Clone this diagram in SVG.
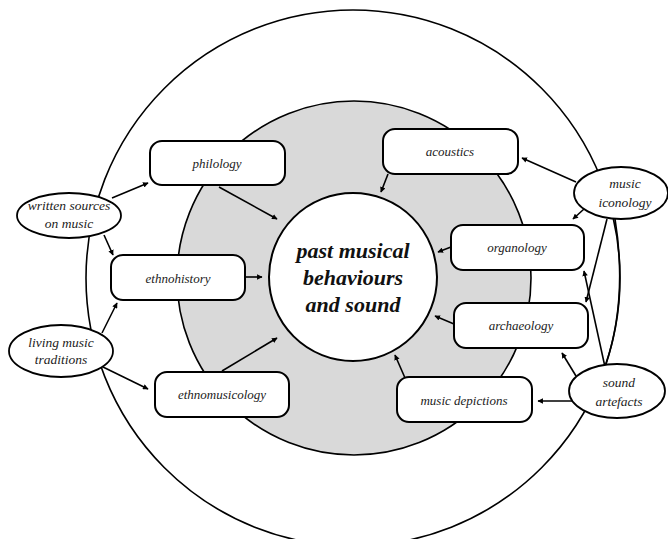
<svg xmlns="http://www.w3.org/2000/svg" width="668" height="539" viewBox="0 0 668 539">
<style>
.box{fill:#fff;stroke:#000;stroke-width:2}
.oval{fill:#fff;stroke:#000;stroke-width:1.8}
text{font-family:'Liberation Serif',serif;font-style:italic;text-anchor:middle}
.lbl{font-size:13px;fill:#222}
.src{font-size:13.5px;fill:#222}
.core{font-weight:bold;font-size:22px;fill:#111}
.con{stroke:#000;stroke-width:1.6;fill:none;marker-end:url(#ah)}
</style>
<defs>
<marker id="ah" viewBox="0 0 10 10" refX="9" refY="5" markerWidth="6" markerHeight="5.5" markerUnits="userSpaceOnUse" orient="auto">
<path d="M0,0 L10,5 L0,10 z" fill="#000"/>
</marker>
</defs>
<rect width="668" height="539" fill="#fff"/>
<g id="outer-ring">
<ellipse cx="353" cy="278" rx="267" ry="268" fill="#fff" stroke="#000" stroke-width="1.6"/>
</g>
<g id="gray-ring">
<circle cx="354" cy="278" r="177" fill="#d9d9d9" stroke="#000" stroke-width="1.6"/>
</g>
<g id="connectors">
<path class="con" d="M112,198 L148,183"/>
<path class="con" d="M104,235 L113,255"/>
<path class="con" d="M102,333 L117,303"/>
<path class="con" d="M103,367 L148,389"/>
<path class="con" d="M219,187 L277,219"/>
<path class="con" d="M245,277 L262,277"/>
<path class="con" d="M222,371 L277,338"/>
<path class="con" d="M388,174 L381,192"/>
<path class="con" d="M576,182 L522,158"/>
<path class="con" d="M584,209 L573,219"/>
<path class="con" d="M451,247 L438,252"/>
<path class="con" d="M454,324 L435,316"/>
<path class="con" d="M405,378 L395,355"/>
<path class="con" d="M572,401 L538,401"/>
<path class="con" d="M576,376 L562,353"/>
<path class="con" d="M607,219 L586,302"/>
<path class="con" d="M605,367 L584,271"/>
<path d="M615,219 Q628,300 605,367" stroke="#000" stroke-width="1.6" fill="none"/>
</g>
<g id="core">
<circle cx="353" cy="277" r="84" fill="#fff" stroke="#000" stroke-width="2"/>
<text class="core" x="353" y="258">past musical</text>
<text class="core" x="353" y="285">behaviours</text>
<text class="core" x="353" y="312">and sound</text>
</g>
<g id="philology"><rect class="box" x="150" y="141" width="135" height="44" rx="12"/><text class="lbl" x="217" y="168">philology</text></g>
<g id="ethnohistory"><rect class="box" x="111" y="255" width="134" height="45" rx="12"/><text class="lbl" x="178" y="283">ethnohistory</text></g>
<g id="ethnomusicology"><rect class="box" x="155" y="372" width="134" height="45" rx="12"/><text class="lbl" x="222" y="399">ethnomusicology</text></g>
<g id="acoustics"><rect class="box" x="383" y="129" width="135" height="45" rx="12"/><text class="lbl" x="450" y="156">acoustics</text></g>
<g id="organology"><rect class="box" x="451" y="225" width="133" height="45" rx="12"/><text class="lbl" x="517" y="252">organology</text></g>
<g id="archaeology"><rect class="box" x="454" y="303" width="134" height="45" rx="12"/><text class="lbl" x="521" y="330">archaeology</text></g>
<g id="music-depictions"><rect class="box" x="397" y="377" width="135" height="45" rx="12"/><text class="lbl" x="464" y="405">music depictions</text></g>
<g id="written-sources"><ellipse class="oval" cx="69" cy="215.5" rx="52" ry="22.5"/><text class="src" x="69" y="210">written sources</text><text class="src" x="69" y="228">on music</text></g>
<g id="living-traditions"><ellipse class="oval" cx="61" cy="351" rx="52" ry="26"/><text class="src" x="61" y="347">living music</text><text class="src" x="61" y="364">traditions</text></g>
<g id="music-iconology"><ellipse class="oval" cx="621" cy="193" rx="47" ry="26"/><text class="src" x="625" y="188">music</text><text class="src" x="625" y="207">iconology</text></g>
<g id="sound-artefacts"><ellipse class="oval" cx="617" cy="391" rx="48" ry="27"/><text class="src" x="619" y="387">sound</text><text class="src" x="619" y="406">artefacts</text></g>
</svg>
